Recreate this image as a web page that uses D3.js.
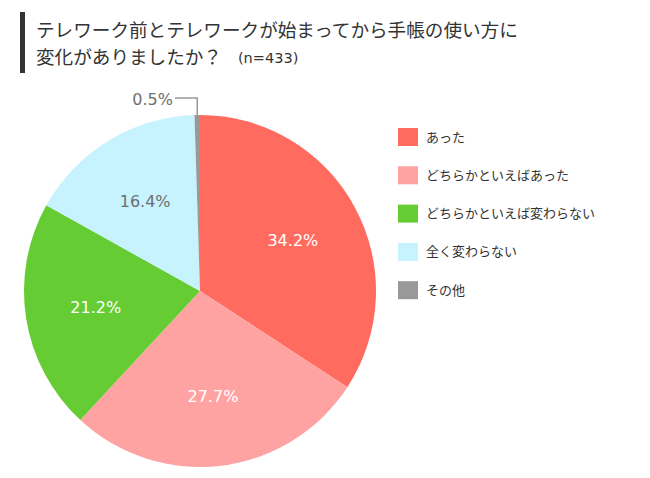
<!DOCTYPE html>
<html><head><meta charset="utf-8">
<script src="https://cdn.jsdelivr.net/npm/d3@7"></script>
<style>body{margin:0;background:#fff;font-family:"Noto Sans CJK JP","Noto Sans",sans-serif;}</style>
</head><body>
<svg id="c" width="650" height="478"></svg>
<script>
const categories = ["あった","どちらかといえばあった","どちらかといえば変わらない","全く変わらない","その他"];
const values = [34.2, 27.7, 21.2, 16.4, 0.5];
const colors = ["#FF6B5E","#FFA3A2","#66CC33","#C7F3FF","#999999"];
const labelColors = ["#ffffff","#ffffff","#ffffff","#6f6f6f","#6f6f6f"];
const titleLines = ["テレワーク前とテレワークが始まってから手帳の使い方に","変化がありましたか？"];
const sampleNote = "(n=433)";

const svg = d3.select("#c");
svg.append("rect").attr("x",20).attr("y",12).attr("width",5).attr("height",61).attr("fill","#333");
svg.append("text").attr("x",36).attr("y",37).attr("font-size",18.6).attr("fill","#333").text(titleLines[0]);
const t2 = svg.append("text").attr("x",36).attr("y",64).attr("font-size",18.6).attr("fill","#333");
t2.append("tspan").text(titleLines[1]);
t2.append("tspan").attr("font-size",14.5).attr("font-family","DejaVu Sans, sans-serif").attr("dx",16).attr("dy",-1).text(sampleNote);

const cx = 200, cy = 291, r = 176;
const pie = d3.pie().sort(null).value(d=>d);
const arcs = pie(values);
const arc = d3.arc().innerRadius(0).outerRadius(r);
const g = svg.append("g").attr("transform",`translate(${cx},${cy})`);
g.selectAll("path").data(arcs).join("path").attr("d",arc).attr("fill",(d,i)=>colors[i]);

const labelArc = d3.arc().innerRadius(r*0.6).outerRadius(r*0.6);
const lblFont = "DejaVu Sans, Verdana, sans-serif";
arcs.forEach((d,i)=>{
  if (i === 4) return;
  const [x,y] = labelArc.centroid(d);
  g.append("text").attr("x",x).attr("y",y).attr("dy","0.36em").attr("text-anchor","middle")
   .attr("font-family",lblFont).attr("font-size",16).attr("fill",labelColors[i]).text(values[i].toFixed(1)+"%");
});
// small slice label with leader
const small = arcs[4];
const mid = (small.startAngle+small.endAngle)/2;
const px = r*Math.sin(mid), py = -r*Math.cos(mid);
g.append("path").attr("d",`M${px},${py+2} L${px},${-193} L${-25},${-193}`).attr("fill","none").attr("stroke","#999").attr("stroke-width",1.5);
g.append("text").attr("x",-27).attr("y",-192).attr("dy","0.36em").attr("text-anchor","end")
 .attr("font-family",lblFont).attr("font-size",16).attr("fill",labelColors[4]).text(values[4].toFixed(1)+"%");

const leg = svg.append("g");
categories.forEach((c,i)=>{
  const y = 137 + i*38.3;
  leg.append("rect").attr("x",398).attr("y",y-9).attr("width",20).attr("height",18).attr("fill",colors[i]);
  leg.append("text").attr("x",426).attr("y",y).attr("dy","0.35em").attr("font-size",13).attr("fill","#333").text(c);
});
</script>
</body></html>
